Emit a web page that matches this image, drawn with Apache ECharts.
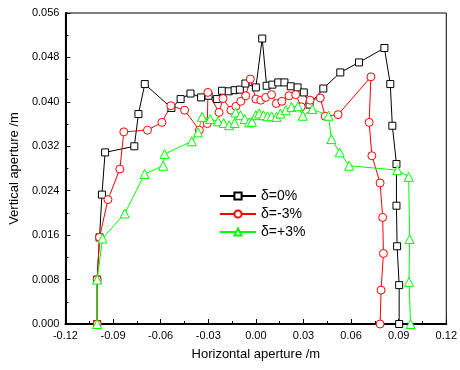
<!DOCTYPE html>
<html>
<head>
<meta charset="utf-8">
<script src="https://cdn.jsdelivr.net/npm/echarts@6/dist/echarts.min.js"></script>
<style>
  html, body { margin: 0; padding: 0; background: #fff; }
  #chart { width: 460px; height: 370px; }
</style>
</head>
<body>
<div id="chart"></div>
<script>
// values (x = horizontal aperture, y = vertical aperture, m)
const seriesNames = ['δ=0%', 'δ=-3%', 'δ=+3%'];

const x0 = [-0.1, -0.1, -0.0985, -0.097, -0.095, -0.0766, -0.074, -0.070, -0.0532, -0.0474, -0.0412, -0.0345, -0.0298, -0.0246, -0.0213, -0.0171, -0.0134, -0.0101, -0.0066, 0.0, 0.004, 0.0068, 0.0104, 0.0141, 0.018, 0.022, 0.0263, 0.0302, 0.0338, 0.0425, 0.0532, 0.065, 0.081, 0.0847, 0.086, 0.0886, 0.0886, 0.089, 0.0903, 0.0903];
const y0 = [0.0, 0.008, 0.0156, 0.0233, 0.0309, 0.032, 0.0378, 0.0432, 0.0389, 0.0405, 0.0415, 0.0408, 0.0411, 0.0405, 0.0420, 0.0419, 0.0421, 0.0422, 0.0433, 0.0426, 0.0514, 0.0429, 0.0431, 0.0435, 0.0435, 0.0428, 0.0426, 0.0417, 0.0395, 0.0424, 0.0453, 0.0471, 0.0497, 0.0432, 0.0357, 0.0288, 0.0213, 0.014, 0.007, 0.0];

const xm = [-0.1, -0.1, -0.0985, -0.0932, -0.0857, -0.0832, -0.0683, -0.0592, -0.0536, -0.0449, -0.0356, -0.0306, -0.0302, -0.0232, -0.0207, -0.0157, -0.0126, -0.0095, -0.0064, -0.0035, 0.0, 0.0031, 0.0062, 0.0099, 0.0129, 0.0164, 0.0209, 0.0251, 0.0286, 0.0342, 0.0406, 0.0437, 0.0518, 0.0725, 0.0714, 0.0731, 0.0783, 0.0799, 0.0804, 0.0789, 0.0783];
const ym = [0.0, 0.008, 0.0156, 0.0224, 0.0279, 0.0346, 0.0349, 0.0363, 0.0393, 0.0385, 0.0349, 0.0361, 0.0417, 0.0381, 0.0406, 0.0385, 0.0392, 0.0401, 0.0411, 0.0441, 0.0405, 0.0403, 0.0408, 0.0413, 0.0397, 0.0401, 0.0411, 0.0413, 0.0391, 0.0403, 0.0407, 0.0374, 0.0377, 0.0445, 0.0363, 0.0303, 0.0254, 0.0192, 0.0127, 0.0061, 0.0];

const xp = [-0.1, -0.1, -0.0966, -0.0826, -0.0701, -0.0584, -0.0575, -0.0404, -0.0364, -0.0339, -0.0288, -0.0238, -0.0203, -0.0168, -0.0134, -0.0128, -0.0097, -0.007, -0.0043, -0.0025, 0.0, 0.0021, 0.0048, 0.0073, 0.0099, 0.013, 0.0155, 0.0189, 0.0224, 0.0265, 0.0296, 0.0356, 0.0458, 0.0476, 0.0528, 0.0588, 0.0892, 0.0963, 0.0969, 0.0965, 0.0975];
const yp = [0.0, 0.008, 0.0154, 0.0199, 0.027, 0.0285, 0.0306, 0.0329, 0.0345, 0.0373, 0.0369, 0.0365, 0.0362, 0.0358, 0.0362, 0.0381, 0.0376, 0.0369, 0.0363, 0.0364, 0.0376, 0.0379, 0.0376, 0.0374, 0.0374, 0.0373, 0.0379, 0.0385, 0.0391, 0.0392, 0.0375, 0.0387, 0.0375, 0.0333, 0.0309, 0.0285, 0.0277, 0.0265, 0.0153, 0.0076, 0.0];

const pairs = (xs, ys) => xs.map((x, i) => [x, ys[i]]);

const chart = echarts.init(document.getElementById('chart'));

const axisFont = { fontFamily: 'Liberation Sans, Arial, sans-serif', color: '#000' };

function makeSeries(name, data, color, symbol, size) {
  return {
    name,
    type: 'line',
    data,
    symbol,
    symbolSize: size,
    showSymbol: true,
    lineStyle: { color, width: 1 },
    itemStyle: { color: '#fff', borderColor: color, borderWidth: 1 },
    emphasis: { disabled: true },
    animation: false
  };
}

chart.setOption({
  backgroundColor: '#fff',
  animation: false,
  grid: {
    left: 64, right: 10, top: 13, bottom: 46,
    show: true, borderColor: '#000', borderWidth: 1
  },
  legend: {
    orient: 'vertical',
    left: 214, top: 184,
    itemWidth: 36, itemHeight: 9,
    itemGap: 4,
    textStyle: { ...axisFont, fontSize: 14 },
    data: seriesNames
  },
  xAxis: {
    type: 'value',
    min: -0.12, max: 0.12, interval: 0.03,
    name: 'Horizontal aperture /m',
    nameLocation: 'middle', nameGap: 24,
    nameTextStyle: { ...axisFont, fontSize: 13 },
    axisLine: { onZero: false, lineStyle: { color: '#000', width: 2 } },
    axisTick: { inside: true, length: 5, lineStyle: { color: '#000' } },
    minorTick: { show: true, splitNumber: 2, length: 3, lineStyle: { color: '#000' } },
    splitLine: { show: false },
    axisLabel: { ...axisFont, fontSize: 11, margin: 6, formatter: v => v.toFixed(2) }
  },
  yAxis: {
    type: 'value',
    min: 0, max: 0.056, interval: 0.008,
    name: 'Vertical aperture /m',
    nameLocation: 'middle', nameGap: 42,
    nameTextStyle: { ...axisFont, fontSize: 13 },
    axisLine: { onZero: false, lineStyle: { color: '#000', width: 2 } },
    axisTick: { inside: true, length: 5, lineStyle: { color: '#000' } },
    minorTick: { show: true, splitNumber: 2, length: 3, lineStyle: { color: '#000' } },
    splitLine: { show: false },
    axisLabel: { ...axisFont, fontSize: 11, margin: 6, formatter: v => v.toFixed(3) }
  },
  series: [
    makeSeries(seriesNames[0], pairs(x0, y0), '#000000', 'rect', 7),
    makeSeries(seriesNames[1], pairs(xm, ym), '#ff0000', 'circle', 8),
    makeSeries(seriesNames[2], pairs(xp, yp), '#00ff00', 'triangle', 9)
  ]
});
</script>
</body>
</html>
